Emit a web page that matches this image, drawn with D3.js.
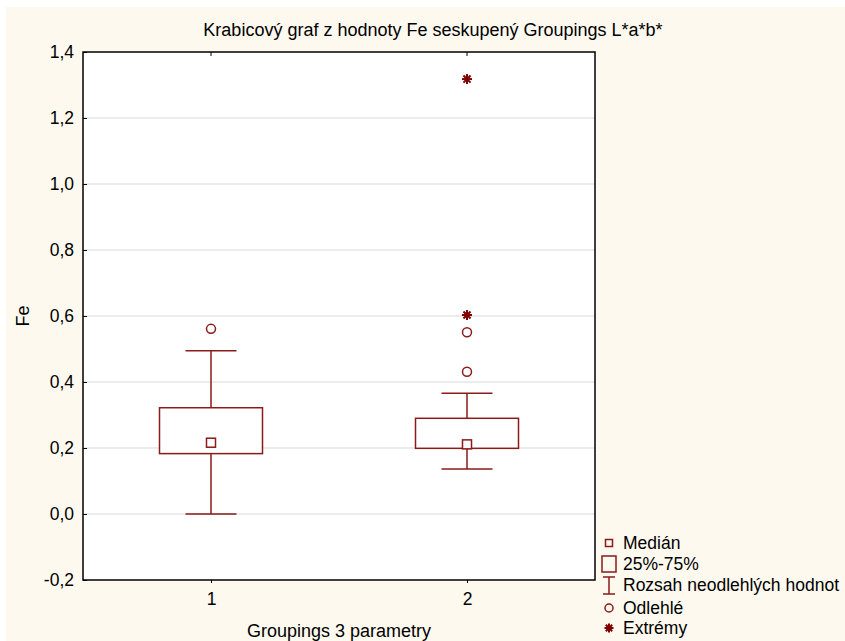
<!DOCTYPE html>
<html>
<head>
<meta charset="utf-8">
<script src="https://cdn.jsdelivr.net/npm/d3@7"></script>
<style>
  body { margin: 0; background: #fff; }
  text { font-family: "Liberation Sans", Arial, sans-serif; fill: #000; }
</style>
</head>
<body>
<div id="chart"></div>
<script>
// data
var groups = ["1", "2"];
var q1 = [0.183, 0.199];
var q3 = [0.322, 0.290];
var medians = [0.216, 0.211];
var whiskerLow = [0.0, 0.136];
var whiskerHigh = [0.495, 0.366];
var outliers = [[0.561], [0.551, 0.431]];
var extremes = [[], [0.603, 1.318]];
var yTicks = [-0.2, 0.0, 0.2, 0.4, 0.6, 0.8, 1.0, 1.2, 1.4];
var legendLabels = ["Medián", "25%-75%", "Rozsah neodlehlých hodnot", "Odlehlé", "Extrémy"];

var W = 845, H = 641;
var margin = {top: 52, right: 250, bottom: 61, left: 83};
var red = "#8b1a1a";

var svg = d3.select("#chart").append("svg")
    .attr("width", W)
    .attr("height", H);

svg.append("rect")
    .attr("x", 6).attr("y", 7)
    .attr("width", W - 6).attr("height", H - 7)
    .attr("fill", "#fdf9ee");

var pw = W - margin.left - margin.right;
var ph = H - margin.top - margin.bottom;

var g = svg.append("g")
    .attr("transform", "translate(" + margin.left + "," + margin.top + ")");

g.append("rect")
    .attr("width", pw).attr("height", ph)
    .attr("fill", "#fff");

var x = d3.scalePoint()
    .domain(groups)
    .range([0, pw])
    .padding(0.5);

var y = d3.scaleLinear()
    .domain([-0.2, 1.4])
    .range([ph, 0]);

var fmt = function(d){ return d3.format(".1f")(d).replace(".", ",").replace("\u2212", "-"); };

// gridlines
g.selectAll(".grid")
    .data(yTicks.filter(function(d){ return d > -0.2 && d < 1.4; }))
    .enter().append("line")
    .attr("x1", 0).attr("x2", pw)
    .attr("y1", function(d){ return y(d); })
    .attr("y2", function(d){ return y(d); })
    .attr("stroke", "#d9d9d9")
    .attr("stroke-width", 1);

var yAxis = d3.axisLeft(y)
    .tickValues(yTicks)
    .tickFormat(fmt)
    .tickSizeInner(-4)
    .tickSizeOuter(0)
    .tickPadding(9);

g.append("g")
    .call(yAxis)
    .call(function(s){
        s.select(".domain").remove();
        s.selectAll(".tick line").attr("stroke", "#000");
        s.selectAll(".tick text").style("font-size", "17.5px");
    });

var xAxis = d3.axisBottom(x)
    .tickSizeInner(3)
    .tickSizeOuter(0)
    .tickPadding(10);

g.append("g")
    .attr("transform", "translate(0," + ph + ")")
    .call(xAxis)
    .call(function(s){
        s.select(".domain").remove();
        s.selectAll(".tick line").attr("stroke", "#000");
        s.selectAll(".tick text").style("font-size", "17.5px");
    });

// top ticks
g.selectAll(".toptick")
    .data(groups)
    .enter().append("line")
    .attr("x1", function(d){ return x(d); })
    .attr("x2", function(d){ return x(d); })
    .attr("y1", 0).attr("y2", 4)
    .attr("stroke", "#000");

// frame
g.append("rect")
    .attr("width", pw).attr("height", ph)
    .attr("fill", "none")
    .attr("stroke", "#000")
    .attr("stroke-width", 1.5);

var boxW = 103, capW = 51, medS = 9;

var boxes = g.selectAll(".box")
    .data(groups)
    .enter().append("g")
    .attr("class", "box");

// whiskers
boxes.append("line")
    .attr("x1", function(d){ return x(d); })
    .attr("x2", function(d){ return x(d); })
    .attr("y1", function(d, i){ return y(whiskerHigh[i]); })
    .attr("y2", function(d, i){ return y(q3[i]); })
    .attr("stroke", red).attr("stroke-width", 1.5);
boxes.append("line")
    .attr("x1", function(d){ return x(d); })
    .attr("x2", function(d){ return x(d); })
    .attr("y1", function(d, i){ return y(q1[i]); })
    .attr("y2", function(d, i){ return y(whiskerLow[i]); })
    .attr("stroke", red).attr("stroke-width", 1.5);
boxes.append("line")
    .attr("x1", function(d){ return x(d) - capW / 2; })
    .attr("x2", function(d){ return x(d) + capW / 2; })
    .attr("y1", function(d, i){ return y(whiskerHigh[i]); })
    .attr("y2", function(d, i){ return y(whiskerHigh[i]); })
    .attr("stroke", red).attr("stroke-width", 1.5);
boxes.append("line")
    .attr("x1", function(d){ return x(d) - capW / 2; })
    .attr("x2", function(d){ return x(d) + capW / 2; })
    .attr("y1", function(d, i){ return y(whiskerLow[i]); })
    .attr("y2", function(d, i){ return y(whiskerLow[i]); })
    .attr("stroke", red).attr("stroke-width", 1.5);

// box
boxes.append("rect")
    .attr("x", function(d){ return x(d) - boxW / 2; })
    .attr("y", function(d, i){ return y(q3[i]); })
    .attr("width", boxW)
    .attr("height", function(d, i){ return y(q1[i]) - y(q3[i]); })
    .attr("fill", "#fff")
    .attr("stroke", red).attr("stroke-width", 1.5);

// median
boxes.append("rect")
    .attr("x", function(d){ return x(d) - medS / 2; })
    .attr("y", function(d, i){ return y(medians[i]) - medS / 2; })
    .attr("width", medS).attr("height", medS)
    .attr("fill", "#fff")
    .attr("stroke", red).attr("stroke-width", 1.5);

// outliers
var outPts = [];
groups.forEach(function(gr, i){
    outliers[i].forEach(function(v){ outPts.push({g: gr, v: v}); });
});
g.selectAll(".outlier")
    .data(outPts)
    .enter().append("circle")
    .attr("cx", function(d){ return x(d.g); })
    .attr("cy", function(d){ return y(d.v); })
    .attr("r", 4.5)
    .attr("fill", "none")
    .attr("stroke", red).attr("stroke-width", 1.5);

// extremes (asterisks)
var star = function(sel, r){
    [0, 45, 90, 135].forEach(function(a){
        var rad = a * Math.PI / 180;
        sel.append("line")
            .attr("x1", -r * Math.cos(rad)).attr("y1", -r * Math.sin(rad))
            .attr("x2", r * Math.cos(rad)).attr("y2", r * Math.sin(rad))
            .attr("stroke", "#800000").attr("stroke-width", 2);
    });
};
var extPts = [];
groups.forEach(function(gr, i){
    extremes[i].forEach(function(v){ extPts.push({g: gr, v: v}); });
});
g.selectAll(".extreme")
    .data(extPts)
    .enter().append("g")
    .attr("transform", function(d){ return "translate(" + x(d.g) + "," + y(d.v) + ")"; })
    .each(function(){ star(d3.select(this), 5); });

// title and axis labels
svg.append("text")
    .attr("x", 433).attr("y", 36)
    .attr("text-anchor", "middle")
    .style("font-size", "18px")
    .text("Krabicový graf z hodnoty Fe seskupený Groupings L*a*b*");

svg.append("text")
    .attr("x", margin.left + pw / 2).attr("y", 637)
    .attr("text-anchor", "middle")
    .style("font-size", "18px")
    .text("Groupings 3 parametry");

svg.append("text")
    .attr("transform", "translate(29," + (margin.top + ph / 2) + ") rotate(-90)")
    .attr("text-anchor", "middle")
    .style("font-size", "18px")
    .text("Fe");

// legend
var legY = [543, 564, 585, 608, 628];
var lx = 609;
var leg = svg.append("g");
leg.selectAll("text")
    .data(legendLabels)
    .enter().append("text")
    .attr("x", 623)
    .attr("y", function(d, i){ return legY[i] + 6; })
    .style("font-size", "17.5px")
    .text(function(d){ return d; });

leg.append("rect")
    .attr("x", lx - 3.5).attr("y", legY[0] - 3.5)
    .attr("width", 7).attr("height", 7)
    .attr("fill", "none").attr("stroke", red).attr("stroke-width", 1.5);
leg.append("rect")
    .attr("x", lx - 7).attr("y", legY[1] - 8)
    .attr("width", 14).attr("height", 16)
    .attr("fill", "none").attr("stroke", red).attr("stroke-width", 1.5);
leg.append("line")
    .attr("x1", lx).attr("x2", lx)
    .attr("y1", legY[2] - 8).attr("y2", legY[2] + 9)
    .attr("stroke", red).attr("stroke-width", 1.5);
leg.append("line")
    .attr("x1", lx - 6).attr("x2", lx + 6)
    .attr("y1", legY[2] - 8).attr("y2", legY[2] - 8)
    .attr("stroke", red).attr("stroke-width", 1.5);
leg.append("line")
    .attr("x1", lx - 6).attr("x2", lx + 6)
    .attr("y1", legY[2] + 9).attr("y2", legY[2] + 9)
    .attr("stroke", red).attr("stroke-width", 1.5);
leg.append("circle")
    .attr("cx", lx).attr("cy", legY[3])
    .attr("r", 4)
    .attr("fill", "none").attr("stroke", red).attr("stroke-width", 1.5);
star(leg.append("g").attr("transform", "translate(" + lx + "," + legY[4] + ")"), 4.5);
</script>
</body>
</html>
